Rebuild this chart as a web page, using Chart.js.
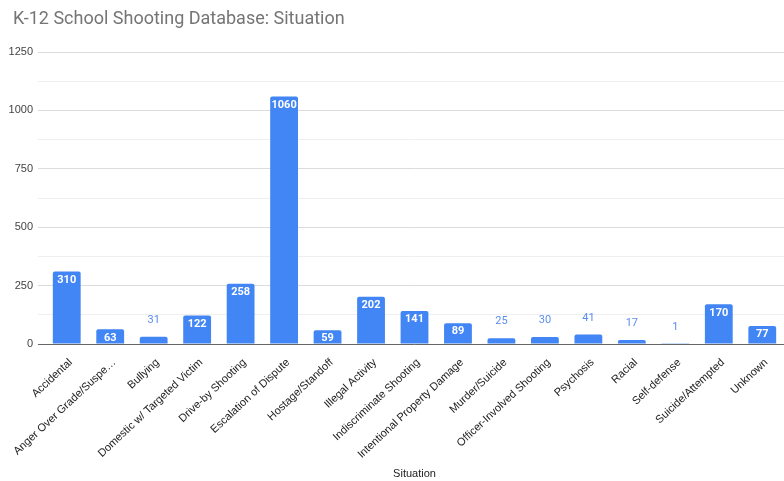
<!DOCTYPE html>
<html>
<head>
<meta charset="utf-8">
<script src="https://cdn.jsdelivr.net/npm/chart.js@4/dist/chart.umd.min.js"></script>
<style>
html,body{margin:0;padding:0;background:#fff;}
#wrap{position:relative;width:784px;height:481px;}
</style>
</head>
<body>
<div id="wrap"><canvas id="c" width="784" height="481"></canvas></div>
<script>
const chartTitle = "K-12 School Shooting Database: Situation";
const xAxisTitle = "Situation";
const categories = [
  "Accidental",
  "Anger Over Grade/Suspe…",
  "Bullying",
  "Domestic w/ Targeted Victim",
  "Drive-by Shooting",
  "Escalation of Dispute",
  "Hostage/Standoff",
  "Illegal Activity",
  "Indiscriminate Shooting",
  "Intentional Property Damage",
  "Murder/Suicide",
  "Officer-Involved Shooting",
  "Psychosis",
  "Racial",
  "Self-defense",
  "Suicide/Attempted",
  "Unknown"
];
const values = [310, 63, 31, 122, 258, 1060, 59, 202, 141, 89, 25, 30, 41, 17, 1, 170, 77];
const yTickLabels = [0, 250, 500, 750, 1000, 1250];

const BLUE = "#4285F4";

const titlePlugin = {
  id: "sheetTitle",
  afterDraw(chart) {
    const ctx = chart.ctx;
    ctx.save();
    ctx.font = "18px Roboto";
    ctx.fillStyle = "#757575";
    ctx.textBaseline = "middle";
    ctx.textAlign = "left";
    ctx.fillText(chartTitle, 13, 19);
    ctx.restore();
  }
};

const labelPlugin = {
  id: "barLabels",
  afterDatasetsDraw(chart) {
    const ctx = chart.ctx;
    const meta = chart.getDatasetMeta(0);
    ctx.save();
    ctx.textAlign = "center";
    ctx.textBaseline = "middle";
    meta.data.forEach((bar, i) => {
      const v = values[i];
      const h = bar.base - bar.y;
      if (h > 12) {
        ctx.font = "bold 11px Roboto";
        ctx.fillStyle = "#ffffff";
        ctx.fillText(String(v), bar.x, bar.y + 8.5);
      } else {
        ctx.font = "11px Roboto";
        ctx.fillStyle = "#5b8def";
        ctx.fillText(String(v), bar.x, bar.y - 16.5);
      }
    });
    ctx.restore();
  }
};

new Chart(document.getElementById("c"), {
  type: "bar",
  data: {
    labels: categories,
    datasets: [{
      data: values,
      backgroundColor: BLUE,
      borderRadius: {topLeft: 2, topRight: 2, bottomLeft: 0, bottomRight: 0},
      borderSkipped: "bottom",
      categoryPercentage: 1.0,
      barPercentage: 0.64
    }]
  },
  options: {
    responsive: false,
    animation: false,
    devicePixelRatio: 1,
    layout: { padding: { top: 52, left: 0, right: 0, bottom: 0 } },
    plugins: {
      legend: { display: false },
      title: { display: false },
      tooltip: { enabled: false }
    },
    scales: {
      x: {
        offset: true,
        grid: { display: false, drawTicks: false },
        border: { display: false },
        ticks: {
          autoSkip: false,
          minRotation: 43,
          maxRotation: 43,
          padding: 12,
          labelOffset: 4,
          color: "#222222",
          font: { family: "'Liberation Sans', Arial", size: 11 }
        },
        title: {
          display: true,
          text: xAxisTitle,
          color: "#222222",
          font: { family: "'Liberation Sans', Arial", size: 11 },
          padding: { top: 0, bottom: 0 }
        },
        afterFit(scale) { scale.height = 137; }
      },
      y: {
        min: 0,
        max: 1250,
        border: { display: false },
        afterBuildTicks(scale) {
          const t = [];
          for (let v = 0; v <= 1250; v += 125) t.push({ value: v });
          scale.ticks = t;
        },
        grid: {
          drawTicks: true,
          tickLength: 7,
          lineWidth: 1,
          color: (c) => c.tick && c.tick.value === 0 ? "#666666" : (yTickLabels.includes(c.tick && c.tick.value) ? "#dcdcdc" : "#efefef"),
          tickColor: (c) => c.tick && c.tick.value === 0 ? "#666666" : (yTickLabels.includes(c.tick && c.tick.value) ? "#dcdcdc" : "#efefef")
        },
        ticks: {
          padding: 5,
          color: "#444444",
          font: { family: "'Liberation Sans', Arial", size: 11 },
          callback: (v) => yTickLabels.includes(v) ? String(v) : ""
        },
        afterFit(scale) { scale.width = 45; }
      }
    }
  },
  plugins: [titlePlugin, labelPlugin]
});
</script>
</body>
</html>
